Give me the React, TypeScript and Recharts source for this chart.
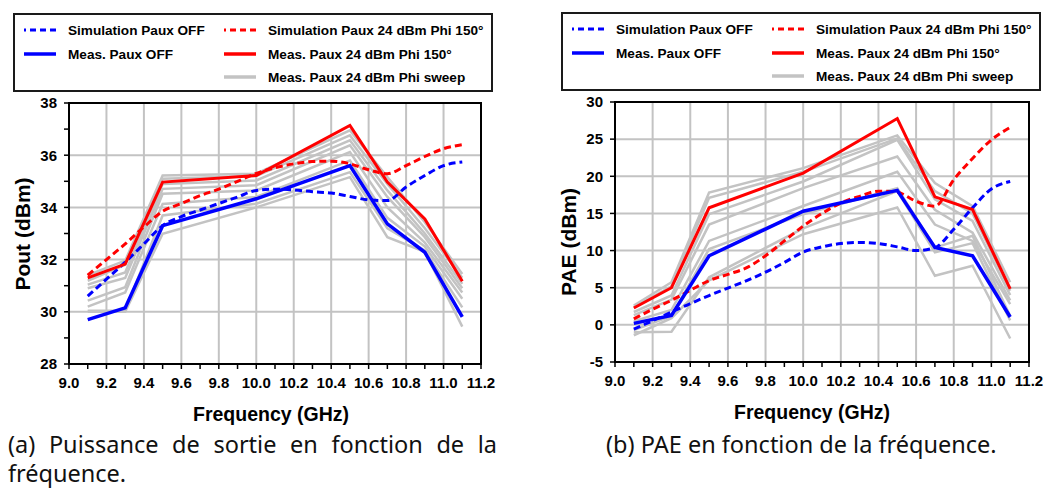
import { LineChart, Line, XAxis, YAxis, CartesianGrid, Label, ReferenceArea } from 'recharts'

const FONT = '"Liberation Sans", Arial, sans-serif'
const BLUE = '#0000ff'
const RED = '#ff0000'
const GREY = '#c3c3c3'

// frequencies (GHz)
const freqMeas = [9.1, 9.3, 9.5, 10.0, 10.5, 10.7, 10.9, 11.1]
const freqSim = [9.1, 9.2, 9.3, 9.4, 9.5, 9.6, 9.7, 9.8, 9.9, 10.0, 10.1, 10.2, 10.3, 10.4, 10.5, 10.6, 10.7, 10.8, 10.9, 11.0, 11.1]
const xTicks = [9.0, 9.1, 9.2, 9.3, 9.4, 9.5, 9.6, 9.7, 9.8, 9.9, 10.0, 10.1, 10.2, 10.3, 10.4, 10.5, 10.6, 10.7, 10.8, 10.9, 11.0, 11.1, 11.2]
const xMajor = [9.0, 9.2, 9.4, 9.6, 9.8, 10.0, 10.2, 10.4, 10.6, 10.8, 11.0, 11.2]

// (a) Pout
const poutTicks = [28, 29, 30, 31, 32, 33, 34, 35, 36, 37, 38]
const poutMajor = [28, 30, 32, 34, 36, 38]
const poutSimOff = [30.6, 31.25, 31.9, 32.6, 33.3, 33.65, 33.9, 34.15, 34.4, 34.65, 34.7, 34.67, 34.6, 34.55, 34.42, 34.29, 34.26, 34.78, 35.22, 35.6, 35.74]
const poutSim150 = [31.4, 32.0, 32.6, 33.25, 33.85, 34.15, 34.45, 34.7, 35.0, 35.3, 35.52, 35.67, 35.76, 35.77, 35.67, 35.44, 35.29, 35.6, 35.95, 36.25, 36.4]
const poutMeasOff = [29.7, 30.15, 33.3, 34.33, 35.6, 33.37, 32.28, 29.81]
const poutMeas150 = [31.3, 31.83, 34.97, 35.22, 37.14, 34.97, 33.56, 31.17]
const poutSweep = [
  [31.4, 31.96, 35.22, 35.29, 36.95, 35.16, 33.43, 31.45],
  [31.19, 31.8, 35.1, 35.2, 36.76, 34.9, 33.2, 31.3],
  [31.04, 31.51, 34.9, 35.03, 36.57, 34.65, 33.0, 31.07],
  [30.9, 31.3, 34.71, 34.85, 36.38, 34.4, 32.86, 30.9],
  [30.43, 30.94, 34.52, 34.65, 36.12, 34.0, 32.65, 30.74],
  [30.2, 30.74, 34.13, 34.4, 35.8, 33.6, 32.5, 30.5],
  [30.04, 30.04, 33.69, 34.14, 35.35, 33.2, 32.35, 30.17],
  [30.0, 30.0, 32.99, 34.0, 35.16, 32.86, 32.3, 29.43],
]

// (b) PAE
const paeTicks = [-5, 0, 5, 10, 15, 20, 25, 30]
const paeSimOff = [-0.59, 0.55, 1.73, 2.85, 3.95, 4.95, 5.96, 7.1, 8.4, 9.8, 10.5, 10.95, 11.1, 10.95, 10.5, 10.0, 10.4, 12.86, 15.76, 18.3, 19.3]
const paeSim150 = [0.8, 2.1, 3.3, 4.65, 5.96, 6.8, 7.7, 9.3, 11.3, 13.3, 15.0, 16.4, 17.3, 18.0, 17.85, 16.64, 15.97, 19.54, 22.4, 24.9, 26.58]
const paeMeasOff = [0.2, 1.28, 9.3, 15.3, 18.1, 10.41, 9.3, 1.06]
const paeMeas150 = [2.27, 5.0, 15.76, 20.43, 27.78, 17.23, 15.53, 4.85]
const paeSweep = [
  [2.6, 5.74, 17.8, 21.1, 25.5, 19.1, 15.97, 5.74],
  [2.4, 5.2, 17.1, 20.6, 25.1, 18.0, 15.0, 4.6],
  [1.73, 3.95, 14.9, 19.3, 24.9, 16.9, 14.0, 4.0],
  [1.3, 3.4, 13.5, 18.4, 22.65, 15.5, 12.4, 3.3],
  [0.5, 2.0, 11.3, 16.0, 20.6, 13.5, 11.3, 2.8],
  [-0.72, 1.2, 10.2, 14.9, 18.4, 10.4, 12.0, 1.2],
  [-1.0, -0.93, 6.4, 13.0, 18.0, 9.75, 11.0, 0.6],
  [-1.4, 0.9, 6.0, 12.2, 15.8, 6.6, 7.96, -1.83],
]

const pts = (xs: number[], ys: number[]) => xs.map((f, i) => ({ f, v: ys[i] }))

const tickStyle = { fill: '#000', fontSize: 15, fontWeight: 700, fontFamily: FONT }
const fmtX = (v: number) => (xMajor.some(m => Math.abs(m - v) < 1e-6) ? v.toFixed(1) : '')

interface PanelProps {
  left: number
  top: number
  marginTop: number
  marginRight: number
  yAxisWidth: number
  yDomain: [number, number]
  yTicks: number[]
  yMajor: number[]
  yFmt: (v: number) => string
  yLabel: string
  yLabelPos: [number, number]
  xLabelX: number
  simOff: number[]
  sim150: number[]
  measOff: number[]
  meas150: number[]
  sweep: number[][]
}

function Panel(p: PanelProps) {
  return (
    <div style={{ position: 'absolute', left: p.left, top: p.top }}>
      <LineChart width={500} height={340} margin={{ top: p.marginTop, right: p.marginRight, left: 0, bottom: 4 }}>
        <CartesianGrid stroke={GREY} strokeWidth={2} verticalValues={xMajor} horizontalValues={p.yMajor} />
        <XAxis
          dataKey="f" type="number" domain={[9, 11.2]} ticks={xTicks} tickFormatter={fmtX}
          allowDataOverflow height={62} tick={tickStyle} tickSize={5} tickMargin={8}
          axisLine={{ stroke: '#000', strokeWidth: 2 }} tickLine={{ stroke: '#000', strokeWidth: 1.5 }}
        />
        <YAxis
          type="number" domain={p.yDomain} ticks={p.yTicks} tickFormatter={p.yFmt} allowDataOverflow
          width={p.yAxisWidth} tick={tickStyle} tickSize={5} tickMargin={7}
          axisLine={{ stroke: '#000', strokeWidth: 2 }} tickLine={{ stroke: '#000', strokeWidth: 1.5 }}
        >
          <Label content={() => (
            <text
              x={p.yLabelPos[0]} y={p.yLabelPos[1]} transform={`rotate(-90 ${p.yLabelPos[0]} ${p.yLabelPos[1]})`}
              textAnchor="middle" dominantBaseline="central"
              style={{ fill: '#000', fontSize: 21, fontWeight: 700, fontFamily: FONT }}
            >{p.yLabel}</text>
          )} />
        </YAxis>

        {p.sweep.map((s, i) => (
          <Line key={i} data={pts(freqMeas, s)} dataKey="v" type="linear" stroke={GREY} strokeWidth={2.5}
            dot={false} activeDot={false} isAnimationActive={false} />
        ))}
        <Line data={pts(freqSim, p.simOff)} dataKey="v" type="monotone" stroke={BLUE} strokeWidth={3}
          strokeDasharray="7 4" dot={false} activeDot={false} isAnimationActive={false} />
        <Line data={pts(freqSim, p.sim150)} dataKey="v" type="monotone" stroke={RED} strokeWidth={3}
          strokeDasharray="7 4" dot={false} activeDot={false} isAnimationActive={false} />
        <Line data={pts(freqMeas, p.measOff)} dataKey="v" type="linear" stroke={BLUE} strokeWidth={3.5}
          dot={false} activeDot={false} isAnimationActive={false} />
        <Line data={pts(freqMeas, p.meas150)} dataKey="v" type="linear" stroke={RED} strokeWidth={3}
          dot={false} activeDot={false} isAnimationActive={false} />

        {/* plot frame */}
        <ReferenceArea x1={9} x2={11.2} y1={p.yDomain[0]} y2={p.yDomain[1]} fill="none"
          stroke="#000" strokeWidth={2} ifOverflow="visible" />
      </LineChart>
      <div style={{
        position: 'absolute', left: p.xLabelX, top: 313, transform: 'translateX(-50%)',
        fontFamily: FONT, fontWeight: 700, fontSize: 19.5, whiteSpace: 'nowrap', color: '#000',
      }}>Frequency (GHz)</div>
    </div>
  )
}

function Sample({ color, dashed }: { color: string; dashed?: boolean }) {
  return (
    <svg width={32} height={8} style={{ display: 'block' }}>
      <line x1={0} y1={4} x2={32} y2={4} stroke={color} strokeWidth={dashed ? 3 : 3.5}
        strokeDasharray={dashed ? '6 4' : undefined} strokeDashoffset={dashed ? 4 : 0} />
    </svg>
  )
}

function LegendBox({ left, top }: { left: number; top: number }) {
  const row = (y: number, x: number, color: string, text: string, dashed?: boolean) => (
    <div style={{ position: 'absolute', left: x, top: y - 8, display: 'flex', alignItems: 'center', height: 16 }}>
      <Sample color={color} dashed={dashed} />
      <span style={{ marginLeft: 12, fontFamily: FONT, fontWeight: 700, fontSize: 13.6, whiteSpace: 'nowrap' }}>{text}</span>
    </div>
  )
  return (
    <div style={{ position: 'absolute', left, top, width: 476, height: 75, border: '2px solid #1a1a1a' }}>
      {row(15, 9, BLUE, 'Simulation Paux OFF', true)}
      {row(15, 209, RED, 'Simulation Paux 24 dBm Phi 150°', true)}
      {row(39, 9, BLUE, 'Meas. Paux OFF')}
      {row(39, 209, RED, 'Meas. Paux 24 dBm Phi 150°')}
      {row(62, 209, GREY, 'Meas. Paux 24 dBm Phi sweep')}
    </div>
  )
}

export default function App() {
  const capStyle = { fontFamily: '"Noto Sans", sans-serif', fontSize: 23.5, lineHeight: '29px', color: '#111' }
  return (
    <div style={{ position: 'absolute', left: 0, top: 0, width: 1045, height: 488, background: '#fff', overflow: 'hidden' }}>
      <LegendBox left={13} top={13} />
      <LegendBox left={561} top={12} />

      <Panel
        left={0} top={90} marginTop={13} marginRight={19} yAxisWidth={69}
        yDomain={[28, 38]} yTicks={poutTicks} yMajor={poutMajor}
        yFmt={v => (v % 2 === 0 ? String(v) : '')}
        yLabel="Pout (dBm)" yLabelPos={[22, 144]} xLabelX={271}
        simOff={poutSimOff} sim150={poutSim150} measOff={poutMeasOff} meas150={poutMeas150} sweep={poutSweep}
      />
      <Panel
        left={545} top={88} marginTop={14} marginRight={16} yAxisWidth={70}
        yDomain={[-5, 30]} yTicks={paeTicks} yMajor={paeTicks}
        yFmt={v => String(v)}
        yLabel="PAE (dBm)" yLabelPos={[23.5, 154]} xLabelX={267}
        simOff={paeSimOff} sim150={paeSim150} measOff={paeMeasOff} meas150={paeMeas150} sweep={paeSweep}
      />

      <div style={{ position: 'absolute', left: 8, top: 430, width: 489, ...capStyle }}>
        <div style={{ textAlign: 'justify', textAlignLast: 'justify' }}>(a) Puissance de sortie en fonction de la</div>
        <div>fréquence.</div>
      </div>
      <div style={{ position: 'absolute', left: 606, top: 430, ...capStyle, whiteSpace: 'nowrap' }}>
        (b) PAE en fonction de la fréquence.
      </div>
    </div>
  )
}
